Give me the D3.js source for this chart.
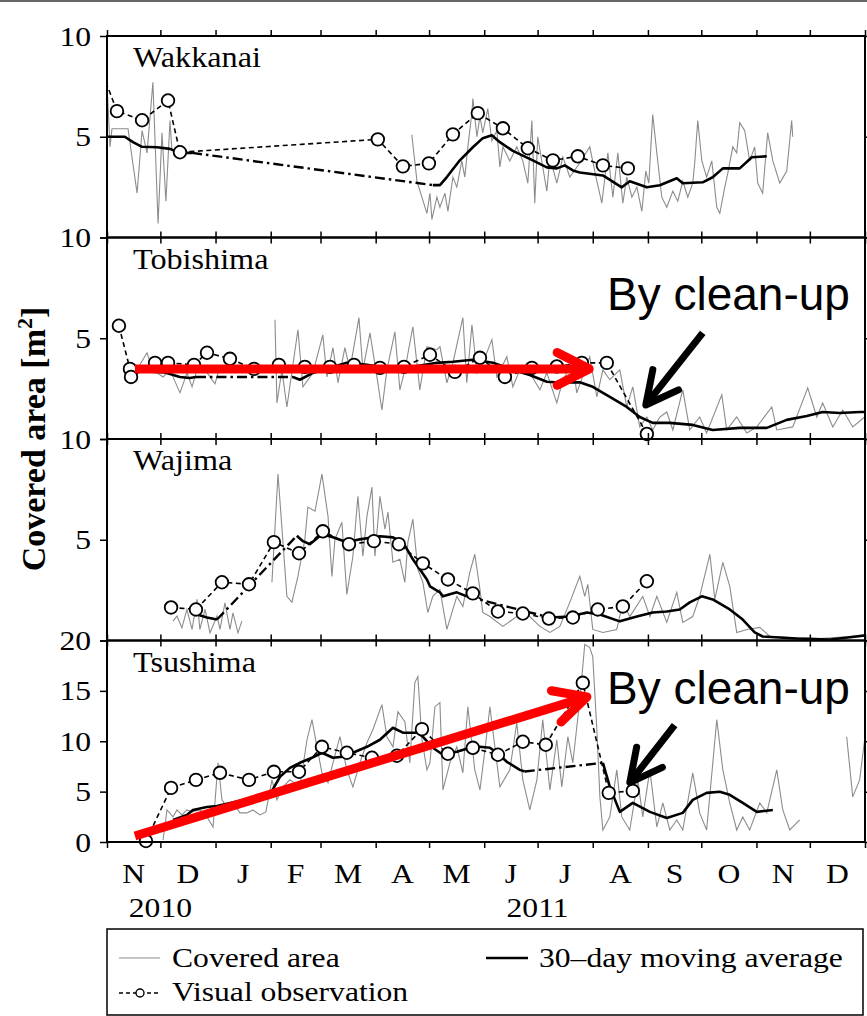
<!DOCTYPE html>
<html>
<head>
<meta charset="utf-8">
<script src="https://cdn.jsdelivr.net/npm/d3@7"></script>
<style>
body { margin: 0; background: #fff; }
</style>
</head>
<body>
<div id="chart"></div>
<script>
// days are counted from 1 Nov 2010, values in m2
const startDay = Date.UTC(2010, 10, 1);
const endDay = Date.UTC(2012, 0, 1);
const monthLabels = ["N", "D", "J", "F", "M", "A", "M", "J", "J", "A", "S", "O", "N", "D"];
const yearLabels = [["2010", Date.UTC(2010, 11, 1)], ["2011", Date.UTC(2011, 6, 1)]];
const stationNames = ["Wakkanai", "Tobishima", "Wajima", "Tsushima"];
const panelMax = [10, 10, 10, 20];
const tickValues = [[0, 5, 10], [0, 5, 10], [0, 5, 10], [0, 5, 10, 15, 20]];
const tickLabels = [[5, 10], [5, 10], [5, 10], [0, 5, 10, 15, 20]];

// covered area (grey), split where the record has gaps
const wakkanaiArea = [
  [[0,7.6],[1.7,4.5],[2.8,5.4],[11.8,5.4],[16.9,2.2],[19.7,5.3],[22.5,4.2],[25.8,7.7],[28.7,0.7],[30.9,5.2],[33.1,1.8],[35.4,5.8],[36.5,4.3]],
  [[171.3,5.1],[174.2,2.8],[179.8,1.2],[181.5,2.2],[182.6,0.9],[185.4,2.0],[187.1,1.5],[189.9,2.2],[191.6,1.3],[194.4,3.0],[196.6,2.5],[199.4,3.8],[201.1,3.0],[202.8,4.5],[205.1,6.2],[205.6,6.9],[207.9,5.0],[209.6,6.0],[211.2,5.2],[214,6.4],[216.3,4.8],[219.1,5.3],[220.8,3.5],[222.5,4.5],[226.4,3.8],[230.3,4.5],[233.7,3.8],[236.5,2.7],[238.8,5.8],[240.4,1.7],[242.1,5.0],[244.9,3.5],[247.2,2.3],[248.9,4.0],[252.8,2.7],[256.2,4.0],[260.1,3.0],[265.7,3.7],[271.3,4.5],[275.3,2.8],[278.1,1.7],[281.5,4.2],[284.3,2.0],[287.1,4.2],[289.9,1.7],[292.1,3.0],[295,2.0],[297.8,2.5],[300.6,1.3],[302.8,3.3],[304.5,2.7],[306.7,6.1],[309,4.2],[311.8,2.0],[314.6,1.5],[318,2.3],[320.8,1.8],[323.6,2.8],[326.4,2.0],[329.2,2.7],[330.3,3.7],[332,5.8],[334.3,3.8],[337,3.0],[339.9,3.8],[342.7,1.5],[344.4,1.2],[347.2,2.5],[348.9,3.2],[351.7,4.5],[353.9,4.2],[355.6,5.7],[358.4,5.3],[361.2,3.8],[364,4.5],[365.7,2.7],[368.5,2.2],[371.3,5.2],[374.2,3.8],[378.1,2.7],[382,3.3],[384.8,5.8],[385.4,5.0]]
];
const wakkanaiAvg = [
  [[0,5.0],[10,5.0],[14.6,4.73],[19.7,4.5],[28.1,4.48],[35.4,4.4],[41,4.2],[47.8,4.2]],
  [[183.1,2.6],[187.1,2.6],[191,3.0],[198.3,3.83],[205.6,4.48],[211.2,4.93],[216.3,5.07],[220.8,4.73],[228.1,4.3],[239.3,3.83],[247.2,3.48],[252.8,3.43],[257.3,3.58],[261.8,3.33],[265.7,3.23],[278.7,3.08],[289.3,2.49],[293.8,2.79],[303.4,2.49],[310.7,2.59],[320.2,2.94],[323.6,2.69],[334.8,2.74],[340.4,2.99],[346.1,3.43],[355.6,3.43],[362.4,3.98],[370.8,4.03]]
];
const wakkanaiObs = [[-4,8.5],[5.6,6.27],[19.7,5.82],[34.3,6.8],[41,4.23],[152.2,4.87],[166.3,3.53],[180.9,3.68],[194.4,5.12],[208.4,6.17],[222.5,5.42],[236.5,4.43],[250.6,3.83],[264.6,4.03],[278.7,3.58],[292.7,3.43]];

const tobishimaArea = [
  [[18.5,3.7],[22.5,4.28],[24.2,3.83],[28.1,3.28],[31.5,3.08],[35.4,3.43],[41,2.29],[45,3.28],[47.8,2.59],[50.6,3.43],[53.9,3.58],[57.9,3.08],[60.7,2.74],[62.5,3.3]],
  [[94.4,5.92],[95.5,1.79],[98.3,3.43],[101.1,1.59],[107.3,5.42],[110.1,2.59],[115.7,3.28],[121.3,5.17],[123.6,3.08],[127,4.53],[129.8,2.79],[133.7,4.53],[136.5,3.43],[141.6,6.02],[143.8,3.43],[147.8,5.27],[151.7,3.08],[154.5,1.44],[157.3,3.43],[161.8,5.32],[164.6,2.44],[167.4,3.43],[171.9,5.57],[175.8,2.44],[179.8,4.58],[185.4,4.43],[187.1,4.58],[191,2.79],[194.4,3.78],[200,6.02],[202.2,2.79],[205.1,5.67],[207.9,3.28],[211.2,3.78],[216.3,4.93],[219.1,3.08],[224.7,4.08],[228.1,2.59],[232,3.43],[237.6,3.28],[243.3,2.44],[247.2,3.28],[252.8,1.79],[256.2,2.94],[261.8,3.78],[264,2.29],[271.3,4.08],[275.3,2.09],[278.7,3.43],[282.6,2.94],[288.2,3.43],[292.1,1.59],[295.5,2.59],[299.4,0.6],[303.4,1.09],[306.7,0.45],[310.7,1.09],[314.6,1.34],[318,0.45],[323.6,2.44],[327.5,0.45],[333.1,1.09],[337,0.3],[345.5,2.19],[348.3,0.45],[353.9,1.09],[359.6,0.3],[365.2,0.6],[373.6,1.59],[376.4,0.45],[385.4,0.6],[393.8,2.54],[398.9,1.09],[402.2,1.79],[407.9,0.6],[413.5,1.44],[419.1,0.6],[425.8,1.09]]
];
const tobishimaAvg = [
  [[20,3.4],[22.5,3.35],[32.6,3.3],[41,3.08],[46.6,3.03],[50,3.08]],
  [[104.5,3.08],[108.4,2.94],[115.7,3.28],[125.3,3.53],[134.8,3.78],[146.1,3.68],[153.4,3.58],[171.9,3.58],[185.4,3.78],[194.4,3.83],[205.6,3.93],[216.9,3.78],[228.1,3.43],[237.6,3.18],[247.2,2.84],[256.2,2.79],[265.7,2.82],[273,2.59],[282.6,2.09],[292.1,1.59],[299.4,1.09],[306.7,0.8],[316.3,0.8],[329.2,0.7],[340.4,0.45],[355.6,0.55],[370.8,0.55],[382,0.95],[393.3,1.14],[402.2,1.34],[411.8,1.29],[423,1.34],[426,1.34]]
];
const tobishimaObs = [[6.7,5.62],[12.9,3.48],[13.5,3.08],[27,3.78],[34.3,3.78],[48.9,3.68],[56.2,4.28],[69.1,3.98],[82.6,3.48],[96.6,3.68],[111.2,3.58],[125.3,3.58],[138.8,3.68],[153.4,3.53],[166.9,3.58],[181.5,4.18],[195.5,3.33],[209.6,4.03],[223.6,3.08],[238.8,3.53],[252.8,3.6],[266.9,3.78],[280.9,3.78],[303.4,0.25]];

const wajimaArea = [
  [[37.1,0.96],[39.3,1.21],[42.1,0.63],[44.9,1.54],[47.8,0.55],[50.6,2.04],[52.2,0.55],[55.1,1.54],[57.9,0.38],[61.8,1.21],[63.5,0.55],[66.3,1.87],[69.1,0.55],[70.8,1.37],[73.6,0.38],[75.8,0.96]],
  [[92.7,2.89],[96.1,8.26],[101.1,2.19],[103.9,1.89],[107.3,3.18],[111.2,5.02],[112.9,6.62],[116.9,6.42],[120.8,8.26],[124.2,6.17],[126.4,3.18],[128.1,5.02],[132,5.87],[134.8,2.29],[138.2,4.18],[141,7.16],[143.8,4.18],[146.1,6.17],[148.9,7.61],[150.6,4.18],[153.4,7.16],[156.2,5.52],[157.9,6.37],[160.7,3.88],[164.6,4.03],[167.4,2.89],[169.1,4.88],[171.9,6.02],[174.7,3.53],[177.5,2.89],[180.3,1.39],[183.1,2.19],[187.1,2.54],[191,0.55],[196.6,2.19],[200,1.69],[203.9,3.38],[206.7,4.28],[209.6,2.54],[211.2,1.39],[215.2,1.19],[222.5,0.7],[230.3,1.19],[237.6,1.19],[243.3,0.7],[248.9,0.4],[254.5,0.7],[260.1,1.89],[265.7,3.18],[268.5,2.19],[270.2,2.79],[273,0.55],[278.7,0.4],[286.5,0.55],[289.9,1.89],[293.8,1.19],[301.1,2.19],[305.1,1.19],[309,2.19],[314.6,0.9],[320.2,2.39],[323.6,0.9],[329.2,1.19],[333.1,2.19],[338.8,4.28],[341.6,2.04],[346.1,3.88],[350,2.69],[353.9,0.4],[359.6,0.55],[366.9,0.65],[372.5,0.2],[383.7,0.15],[400.6,0.1],[417.4,0.2],[425.8,0.3]]
];
const wajimaAvg = [
  [[50.6,1.29],[56.2,1.14],[61.8,1.04]],
  [[106.7,5.2],[110.1,4.93],[114,4.78],[120.8,5.27],[127,5.12],[134.8,4.88],[142.1,5.02],[153.4,5.17],[160.7,5.12],[166.3,4.88],[171.9,4.03],[179.8,3.03],[181.5,2.69],[187.1,2.39],[188.8,2.19],[196.6,2.39],[202.2,2.19]],
  [[248.9,1.14],[260.1,1.19],[269.7,1.39],[277,1.29],[288.2,0.95],[297.8,1.19],[306.7,1.39],[314.6,1.44],[321.9,1.54],[327.5,1.89],[334.3,2.19],[340.4,2.04],[350,1.54],[357.3,1.04],[364,0.4],[368.5,0.2],[387.6,0.1],[406.2,0.05],[421.3,0.2],[426,0.25]]
];
const wajimaObs = [[36,1.64],[50,1.54],[64.6,2.89],[79.8,2.79],[93.8,4.88],[107.9,4.33],[121.3,5.42],[136,4.78],[150,4.93],[164,4.78],[177.5,3.83],[191.6,3.03],[205.6,2.34],[219.7,1.44],[233.7,1.34],[248.3,1.09],[261.8,1.14],[275.8,1.54],[289.9,1.69],[303.4,2.94]];

const tsushimaArea = [
  [[31.5,0.2],[33.7,3.18],[37.1,2.49],[39.3,3.18],[42.1,2.69],[44.9,3.18],[47.8,2.99],[52.2,3.18],[56.2,2.49],[59.6,1.49],[62.4,7.86],[64.6,4.18],[67.4,3.48],[70.8,3.88],[74.7,2.89],[78.7,2.89],[82,3.18],[86,2.69],[89.3,2.99],[92.7,6.17],[95.5,4.18],[98.9,5.47],[102.8,6.17],[108.4,5.47],[112.4,10.15],[115.2,12.14],[118,9.45],[120.8,6.87],[124.2,5.87],[127,7.86],[130.9,10.45],[134.8,7.16],[138.2,5.47],[142.1,7.86],[146.1,9.85],[149.4,11.14],[154.5,13.63],[157.3,10.45],[160.7,9.45],[163.5,12.94],[167.4,11.94],[170.2,7.86],[173,15.82],[174.7,16.42],[177,10.15],[179.8,7.16],[181.5,7.86],[184.3,13.43],[187.1,13.83],[188.8,5.17],[192.7,7.86],[196.6,9.45],[200,6.87],[202.8,13.43],[206.7,7.16],[209.6,5.17],[212.4,9.15],[215.2,13.43],[219.1,7.86],[220.8,5.47],[226.4,7.16],[230.3,11.84],[233.7,6.17],[237.6,3.18],[241.6,6.17],[244.9,12.14],[248.9,5.17],[252.8,10.15],[255.6,5.47],[259,10.45],[261.8,7.86],[265.7,14.1],[268.5,19.6],[271.3,19.3],[273,18.4],[275.3,11.14],[277,4.48],[278.7,1.19],[282.6,2.49],[286.5,7.16],[289.3,2.49],[293.8,1.19],[298.3,6.17],[301.1,2.49],[305.1,7.16],[309,1.49],[312.4,3.88],[316.3,1.19],[320.2,2.19],[323.6,1.19],[329.2,6.87],[333.1,2.89],[337,1.19],[342.7,12.14],[346.1,7.16],[350,3.88],[353.9,1.19],[357.3,2.49],[361.2,1.19],[366.9,3.88],[370.8,2.89],[376.4,7.16],[379.8,3.18],[383.7,1.19],[389.3,2.19]],
  [[415.7,10.45],[419.1,4.48],[423,6.17],[425.8,10.15]]
];
const tsushimaAvg = [
  [[37.1,2.19],[44.9,2.69],[48.3,3.18],[56.2,3.48],[61.8,3.58],[74.7,4.08],[86,4.58],[92.7,5.07],[97.2,6.47],[102.8,7.36],[108.4,7.86],[115.2,8.36],[120.8,8.86],[127,8.36],[132.6,8.46],[138.2,8.86],[146.1,9.45],[153.4,10.15],[160.7,11.34],[166.3,10.85],[174.2,10.85],[177.5,10.45],[183.1,9.35],[188.8,8.66],[196.6,8.96],[203.9,9.35],[209.6,9.45],[215.2,9.35],[219.1,8.86],[224.7,7.96],[232,7.16],[234.8,7.0]],
  [[278.7,7.86],[282.6,5.47],[288.2,2.99],[295.5,3.88],[305.1,2.99],[314.6,2.39],[323.6,2.89],[329.2,4.18],[337,4.88],[344.4,4.98],[350,4.68],[357.3,3.88],[365.2,2.99],[374.2,3.18]]
];
const tsushimaObs = [[21.9,0.1],[36,5.37],[50,6.17],[63.5,6.87],[79.8,6.17],[93.8,6.97],[107.9,6.97],[120.8,9.45],[134.8,8.86],[148.9,8.36],[162.9,8.56],[177,11.2],[191.6,8.76],[205.6,9.35],[219.7,8.66],[233.7,9.95],[246.6,9.65],[267.4,15.8],[282,4.88],[295.5,5.07]];

// hand-drawn annotations: [panel, [day, value] from, [day, value] to]
const redArrows = [[1, [15.7, 3.48], [271, 3.48]], [3, [15.7, 0.6], [269.7, 14.4]]];
const blackArrows = [[1, [334.8, 5.27], [302.8, 1.69]], [3, [319, 11.6], [293.8, 5.9]]];
const cleanupNotes = [[1, 281, 6.42], [3, 281, 13.7]];

const areaSeries = [wakkanaiArea, tobishimaArea, wajimaArea, tsushimaArea];
const avgSeries = [wakkanaiAvg, tobishimaAvg, wajimaAvg, tsushimaAvg];
const obsSeries = [wakkanaiObs, tobishimaObs, wajimaObs, tsushimaObs];

const W = 867, H = 1016;
const margin = {top: 36, left: 107, right: 2};
const plotRight = W - margin.right;
const panelH = 201.5;
const serif = "'Liberation Serif', 'Times New Roman', serif";
const stretch = 1.13;

const svg = d3.select("#chart").append("svg")
  .attr("width", W).attr("height", H)
  .style("background", "#fff");

svg.append("rect").attr("x", 0).attr("y", 0).attr("width", W).attr("height", 2).attr("fill", "#666");

const x = d3.scaleUtc().domain([new Date(startDay), new Date(endDay)]).range([margin.left, plotRight]);
const dayDate = d => new Date(startDay + d * 864e5);
const monthTicks = d3.utcMonth.range(new Date(startDay), new Date(endDay + 864e5));

function serifText(parent, px, py, str, anchor, size) {
  return parent.append("text")
    .attr("transform", "translate(" + px + "," + py + ") scale(" + stretch + ",1)")
    .attr("text-anchor", anchor || "start")
    .style("font-family", serif)
    .style("font-size", (size || 28) + "px")
    .text(str);
}

const yScales = [];

stationNames.forEach(function(name, i) {
  const top = margin.top + i * panelH, bottom = top + panelH;
  const y = d3.scaleLinear().domain([0, panelMax[i]]).range([bottom, top]);
  yScales.push(y);
  const g = svg.append("g");

  svg.append("clipPath").attr("id", "clip" + i).append("rect")
    .attr("x", margin.left).attr("y", top)
    .attr("width", plotRight - margin.left).attr("height", panelH);
  const plot = g.append("g").attr("clip-path", "url(#clip" + i + ")");

  const line = d3.line().x(d => x(dayDate(d[0]))).y(d => y(d[1]));

  // covered area
  areaSeries[i].forEach(function(seg) {
    plot.append("path").attr("d", line(seg))
      .attr("fill", "none").attr("stroke", "#8c8c8c").attr("stroke-width", 1.1);
  });

  // moving average, dash-dot across gaps
  const avg = avgSeries[i];
  avg.forEach(function(seg, k) {
    if (k > 0) {
      const prev = avg[k - 1];
      plot.append("path").attr("d", line([prev[prev.length - 1], seg[0]]))
        .attr("fill", "none").attr("stroke", "#000").attr("stroke-width", 2.4)
        .attr("stroke-dasharray", "10,4,2.5,4");
    }
    plot.append("path").attr("d", line(seg))
      .attr("fill", "none").attr("stroke", "#000").attr("stroke-width", 2.6)
      .attr("stroke-linejoin", "round");
  });

  // visual observation
  plot.append("path").attr("d", line(obsSeries[i]))
    .attr("fill", "none").attr("stroke", "#000").attr("stroke-width", 1.6)
    .attr("stroke-dasharray", "5,3.5");
  g.selectAll("circle.obs").data(obsSeries[i].filter(d => d[0] >= 0)).join("circle")
    .attr("class", "obs")
    .attr("cx", d => x(dayDate(d[0]))).attr("cy", d => y(d[1])).attr("r", 6.3)
    .attr("fill", "#fff").attr("stroke", "#000").attr("stroke-width", 1.8);

  // frame
  g.append("rect").attr("x", margin.left).attr("y", top)
    .attr("width", plotRight - margin.left).attr("height", panelH)
    .attr("fill", "none").attr("stroke", "#000").attr("stroke-width", 2);

  // ticks
  const noDomain = s => { s.select(".domain").remove(); s.selectAll("line").attr("stroke-width", 1.5); };
  g.append("g").attr("transform", "translate(0," + top + ")")
    .call(d3.axisTop(x).tickValues(monthTicks).tickSize(6).tickFormat("")).call(noDomain);
  g.append("g").attr("transform", "translate(0," + bottom + ")")
    .call(d3.axisBottom(x).tickValues(monthTicks).tickSize(6).tickFormat("")).call(noDomain);
  g.append("g").attr("transform", "translate(" + margin.left + ",0)")
    .call(d3.axisLeft(y).tickValues(tickValues[i]).tickSize(7).tickFormat("")).call(noDomain);
  g.append("g").attr("transform", "translate(" + plotRight + ",0)")
    .call(d3.axisRight(y).tickValues(tickValues[i]).tickSize(6).tickFormat("")).call(noDomain);

  tickLabels[i].forEach(function(v) {
    serifText(g, 91, y(v) + 9.5, String(v), "end");
  });

  serifText(g, 133, top + 31, name, "start", 28.5);
});

// month and year labels
const labelY = margin.top + 4 * panelH;
monthLabels.forEach(function(m, k) {
  const mid = (monthTicks[k].getTime() + monthTicks[k + 1].getTime()) / 2;
  serifText(svg, x(new Date(mid)), labelY + 41, m, "middle");
});
yearLabels.forEach(function(d) {
  serifText(svg, x(new Date(d[1])), labelY + 75, d[0], "middle");
});

// y axis title
const yTitle = svg.append("text")
  .attr("transform", "translate(45," + (margin.top + 2 * panelH) + ") rotate(-90)")
  .attr("text-anchor", "middle")
  .style("font-family", serif).style("font-size", "34px").style("font-weight", "bold")
  .text("Covered area [m");
yTitle.append("tspan").attr("dy", -13).style("font-size", "22px").text("2");
yTitle.append("tspan").attr("dy", 13).text("]");

// annotations
function chevronArrow(panel, from, to, color, width) {
  const y = yScales[panel];
  const x0 = x(dayDate(from[0])), y0 = y(from[1]);
  const x1 = x(dayDate(to[0])), y1 = y(to[1]);
  const back = Math.atan2(y0 - y1, x0 - x1), len = 36, spread = 27 * Math.PI / 180;
  const a1 = [x1 + len * Math.cos(back + spread), y1 + len * Math.sin(back + spread)];
  const a2 = [x1 + len * Math.cos(back - spread), y1 + len * Math.sin(back - spread)];
  svg.append("line").attr("x1", x0).attr("y1", y0).attr("x2", x1).attr("y2", y1)
    .attr("stroke", color).attr("stroke-width", width);
  svg.append("path").attr("d", "M" + a1 + "L" + x1 + "," + y1 + "L" + a2)
    .attr("fill", "none").attr("stroke", color).attr("stroke-width", width)
    .attr("stroke-linejoin", "round").attr("stroke-linecap", "round");
}
redArrows.forEach(a => chevronArrow(a[0], a[1], a[2], "#ff0000", 9));
blackArrows.forEach(a => chevronArrow(a[0], a[1], a[2], "#000", 7));
cleanupNotes.forEach(function(n) {
  svg.append("text")
    .attr("x", x(dayDate(n[1]))).attr("y", yScales[n[0]](n[2]))
    .style("font-family", "'Liberation Sans', Arial, sans-serif").style("font-size", "46px")
    .text("By clean-up");
});

// legend
const legend = svg.append("g");
legend.append("rect").attr("x", margin.left).attr("y", 929)
  .attr("width", plotRight - 2 - margin.left).attr("height", 86)
  .attr("fill", "#fff").attr("stroke", "#000").attr("stroke-width", 1.5);
legend.append("line").attr("x1", 119).attr("x2", 160).attr("y1", 958).attr("y2", 958)
  .attr("stroke", "#8c8c8c").attr("stroke-width", 1.1);
serifText(legend, 172, 967, "Covered area");
legend.append("line").attr("x1", 486).attr("x2", 528).attr("y1", 958).attr("y2", 958)
  .attr("stroke", "#000").attr("stroke-width", 2.6);
serifText(legend, 539, 967, "30\u2013day moving average");
legend.append("line").attr("x1", 119).attr("x2", 160).attr("y1", 993).attr("y2", 993)
  .attr("stroke", "#000").attr("stroke-width", 1.4).attr("stroke-dasharray", "4,3");
legend.append("circle").attr("cx", 140).attr("cy", 993).attr("r", 4)
  .attr("fill", "#fff").attr("stroke", "#000").attr("stroke-width", 1.4);
serifText(legend, 172, 1001, "Visual observation");
</script>
</body>
</html>
